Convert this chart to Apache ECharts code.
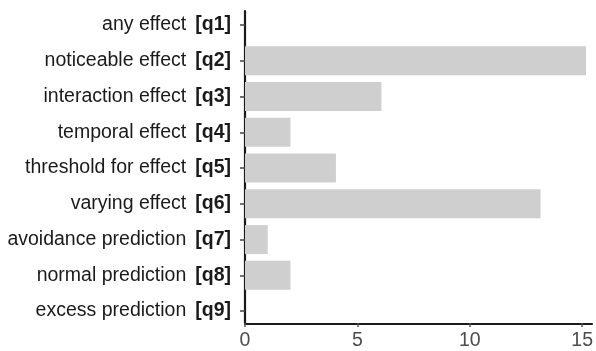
<!DOCTYPE html>
<html>
<head>
<meta charset="utf-8">
<script src="https://cdn.jsdelivr.net/npm/echarts@6/dist/echarts.min.js"></script>
<style>html,body{margin:0;padding:0;background:#fff}#c{width:596px;height:351px}</style>
</head>
<body>
<div id="c"></div>
<script>
const names = ["any effect","noticeable effect","interaction effect","temporal effect","threshold for effect","varying effect","avoidance prediction","normal prediction","excess prediction"];
const codes = ["q1","q2","q3","q4","q5","q6","q7","q8","q9"];
const values = [0,15,6,2,4,13,1,2,0];
const xTicks = [0,5,10,15];

const FONT = "Liberation Sans, Arial, Helvetica, sans-serif";
const cats = names.map((n,i)=>n+"|"+codes[i]);
const chart = echarts.init(document.getElementById('c'), null, {renderer:'canvas'});
chart.setOption({
  animation:false,
  backgroundColor:'#ffffff',
  grid:[
    {left:245, right:4, top:11, bottom:27},
    {left:245, right:10, top:7.1, bottom:22},
    {left:245, right:10, top:11, bottom:27}
  ],
  xAxis:[
    {type:'value', gridIndex:0, min:0, max:1,
     axisLine:{show:true, lineStyle:{color:'#1a1a1a', width:2.2}},
     axisTick:{show:false}, axisLabel:{show:false}, splitLine:{show:false}},
    {type:'value', gridIndex:1, min:0, max:15, show:false},
    {type:'value', gridIndex:2, min:xTicks[0], max:xTicks[xTicks.length-1], interval:5,
     axisLine:{show:false},
     axisTick:{show:true, length:4, lineStyle:{color:'#555', width:1.5}},
     axisLabel:{color:'#4d4d4d', fontSize:19.5, fontFamily:FONT, margin:8},
     splitLine:{show:false}}
  ],
  yAxis:[
    {type:'value', gridIndex:0, min:0, max:1, axisLine:{show:true, lineStyle:{color:'#1a1a1a', width:2.2}},
     axisTick:{show:false}, axisLabel:{show:false}, splitLine:{show:false}},
    {type:'category', gridIndex:1, inverse:true, data:cats,
     axisLine:{show:false},
     axisTick:{show:true, alignWithLabel:true, length:5, lineStyle:{color:'#444', width:1.5}},
     axisLabel:{margin:14, fontFamily:FONT,
       formatter:function(v){const p=v.split('|');return '{n|'+p[0]+'}{b|['+p[1]+']}';},
       rich:{n:{color:'#1a1a1a', fontSize:19.5, fontFamily:FONT},
             b:{color:'#1a1a1a', fontSize:19.5, fontWeight:'bold', fontFamily:FONT, padding:[0,0,0,9]}}},
     splitLine:{show:false}},
    {type:'value', gridIndex:2, min:0, max:1, show:false}
  ],
  series:[{type:'bar', xAxisIndex:1, yAxisIndex:1, data:values, barWidth:29,
    itemStyle:{color:'#cecfce'}, silent:true}]
});
</script>
</body>
</html>
